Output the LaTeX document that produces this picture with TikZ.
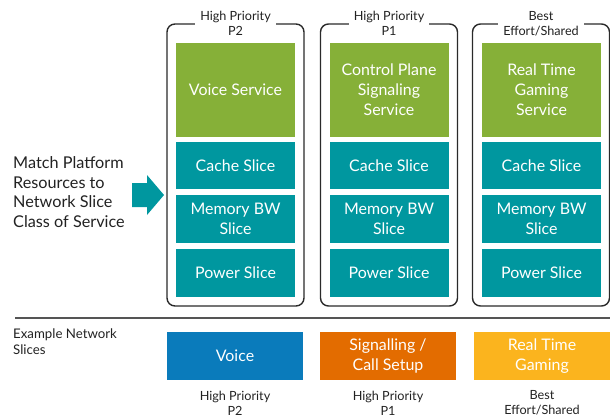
\documentclass[tikz,border=0pt]{standalone}
\usepackage{fontspec}
\setmainfont{Lato}
\definecolor{svcgreen}{HTML}{86B038}
\definecolor{slicteal}{HTML}{00979F}
\definecolor{voiceblue}{HTML}{0A7BBB}
\definecolor{sigorange}{HTML}{E36C00}
\definecolor{gameyellow}{HTML}{FBB41E}
\definecolor{framegray}{HTML}{2A2A2A}
\definecolor{labelgray}{HTML}{222222}
\begin{document}
\begin{tikzpicture}[x=1bp,y=-1bp,
  container/.style={draw=framegray, line width=1.4bp, rounded corners=8bp,
    minimum width=137bp, minimum height=282bp, inner sep=0pt},
  coslabel/.style={fill=white, inner xsep=5bp, inner ysep=1bp, align=center,
    text=labelgray, font=\fontsize{12.7}{15}\selectfont},
  block/.style={minimum width=119bp, inner sep=0pt, align=center, text=white,
    font=\fontsize{16}{20}\selectfont},
  service/.style={block, fill=svcgreen, minimum height=94bp},
  resslice/.style={block, fill=slicteal, minimum height=47bp},
  example/.style={minimum width=136bp, minimum height=48bp, inner sep=0pt,
    align=center, text=white, font=\fontsize{16}{20}\selectfont},
  sidetext/.style={align=left, inner sep=0pt, text=labelgray}
]
\useasboundingbox (0,0) rectangle (610,419);

% --- platform resource columns -------------------------------------------
\node[container] (c1) at (235.5,165) {};
\node[container] (c2) at (389,165) {};
\node[container] (c3) at (541,165) {};

\node[coslabel] (t1) at (c1.north) {High Priority\\P2};
\node[coslabel] (t2) at (c2.north) {High Priority\\P1};
\node[coslabel] (t3) at (c3.north) {Best\\Effort/Shared};

\foreach \n/\cx/\svc in {1/235.5/{Voice Service},
                         2/389/{Control Plane\\Signaling\\Service},
                         3/541.5/{Real Time\\Gaming\\Service}} {
  \node[service]  (s\n) at (\cx,90)    {\svc};
  \node[resslice] (k\n) at (\cx,165.5) {Cache Slice};
  \node[resslice, minimum height=48bp] (m\n) at (\cx,219) {Memory BW\\Slice};
  \node[resslice, minimum height=48bp] (p\n) at (\cx,273) {Power Slice};
}

% --- left-hand caption and arrow -----------------------------------------
\node[sidetext, anchor=west, font=\fontsize{16.3}{19.5}\selectfont] (match) at (13,192)
  {Match Platform\\Resources to\\Network Slice\\Class of Service};
\fill[slicteal] (132,183) -- (147,183) -- (147,175) -- (164,195) -- (147,215)
  -- (147,207) -- (132,207) -- cycle;

% --- separator -----------------------------------------------------------
\coordinate (sepL) at (15,318);
\coordinate (sepR) at (610,318);
\draw[draw=framegray!80, line width=1.4bp] (sepL) -- (sepR);

% --- example network slices ----------------------------------------------
\node[sidetext, anchor=north west, font=\fontsize{13.3}{16}\selectfont] (ex) at (13,329)
  {Example Network\\Slices};

\node[example, fill=voiceblue] (e1) at (235,356) {Voice};
\node[example, fill=sigorange] (e2) at (388,356) {Signalling /\\Call Setup};
\node[example, fill=gameyellow] (e3) at (542,356) {Real Time\\Gaming};

\node[coslabel, fill=none] (b1) at (235,403) {High Priority\\P2};
\node[coslabel, fill=none] (b2) at (388,403) {High Priority\\P1};
\node[coslabel, fill=none] (b3) at (542,403) {Best\\Effort/Shared};
\end{tikzpicture}
\end{document}
